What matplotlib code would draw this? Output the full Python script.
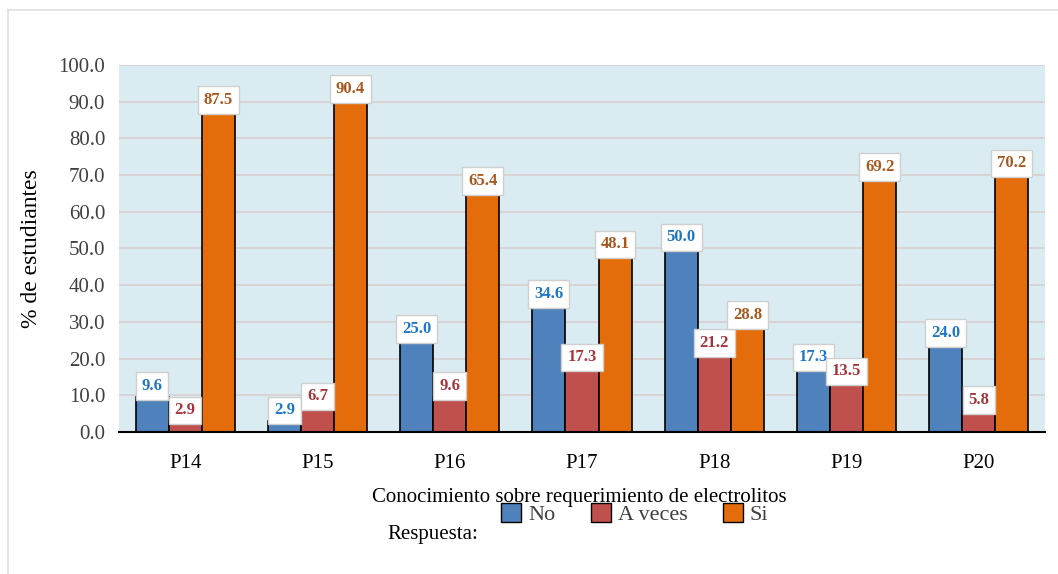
import matplotlib.pyplot as plt
import numpy as np
from matplotlib.lines import Line2D
from matplotlib.patches import Patch
from matplotlib.font_manager import FontProperties

preguntas = ['P14', 'P15', 'P16', 'P17', 'P18', 'P19', 'P20']
no = [9.6, 2.9, 25.0, 34.6, 50.0, 17.3, 24.0]
a_veces = [2.9, 6.7, 9.6, 17.3, 21.2, 13.5, 5.8]
si = [87.5, 90.4, 65.4, 48.1, 28.8, 69.2, 70.2]

series = [('No', no, '#4F81BD', '#1F75C4'),
          ('A veces', a_veces, '#C0504D', '#A3343C'),
          ('Si', si, '#E46C0A', '#A8581E')]

plt.rcParams['font.family'] = ['Liberation Serif', 'DejaVu Serif']

fig = plt.figure(figsize=(10.58, 5.74), dpi=100)
ax = fig.add_axes([0.1125, 0.2474, 0.8752, 0.6394])
ax.set_facecolor('#DAECF2')

x = np.arange(len(preguntas))
w = 0.25
for i, (nombre, vals, color, tcolor) in enumerate(series):
    pos = x + (i - 1) * w
    ax.bar(pos, vals, w, color=color, edgecolor='black', linewidth=1.2,
           label=nombre, zorder=3)
    for px, v in zip(pos, vals):
        ax.text(px, v + 3, f'{v:.1f}', ha='center', va='center',
                fontsize=12, fontweight='bold', color=tcolor, zorder=5,
                bbox=dict(boxstyle='square,pad=0.35', fc='white',
                          ec='#CFCFCF', lw=1))

ax.set_xlim(-0.5, len(preguntas) - 0.5)
ax.set_ylim(0, 100)
ax.set_yticks(np.arange(0, 101, 10))
ax.set_yticklabels([f'{t:.1f}' for t in range(0, 101, 10)])
ax.set_xticks(x)
ax.set_xticklabels(preguntas)
ax.tick_params(axis='y', length=0, labelsize=15, labelcolor='#404040', pad=10)
ax.tick_params(axis='x', length=0, labelsize=15, pad=16)
ax.grid(axis='y', color='#D8D0D0', lw=1.2, zorder=0)
for s in ['top', 'right', 'left']:
    ax.spines[s].set_visible(False)
ax.spines['bottom'].set_color('black')
ax.spines['bottom'].set_linewidth(1.5)
ax.spines['bottom'].set_zorder(4)
ax.set_ylabel('% de estudiantes', fontsize=17, labelpad=12)

fig.text(0.548, 0.133, 'Conocimiento sobre requerimiento de electrolitos',
         ha='center', va='center', fontsize=15)
fig.text(0.409, 0.068, 'Respuesta:', ha='center', va='center', fontsize=15)

handles = [Patch(facecolor=c, edgecolor='black', label=n) for n, _, c, _ in series]
leg = fig.legend(handles=handles, loc='center', bbox_to_anchor=(0.6, 0.104), ncol=3,
                 frameon=False, prop=FontProperties(family=['Liberation Serif'], size=16),
                 handlelength=0.9, handleheight=0.9,
                 columnspacing=1.6, handletextpad=0.3)
for t in leg.get_texts():
    t.set_fontfamily(['Liberation Serif', 'DejaVu Serif'])
    t.set_color('#404040')

fig.add_artist(Line2D([0.008, 0.008], [0.0, 0.982], color='#E0E0E0', lw=1.2))
fig.add_artist(Line2D([0.008, 1.0], [0.982, 0.982], color='#E0E0E0', lw=1.2))

fig.savefig('out.png', dpi=100)
